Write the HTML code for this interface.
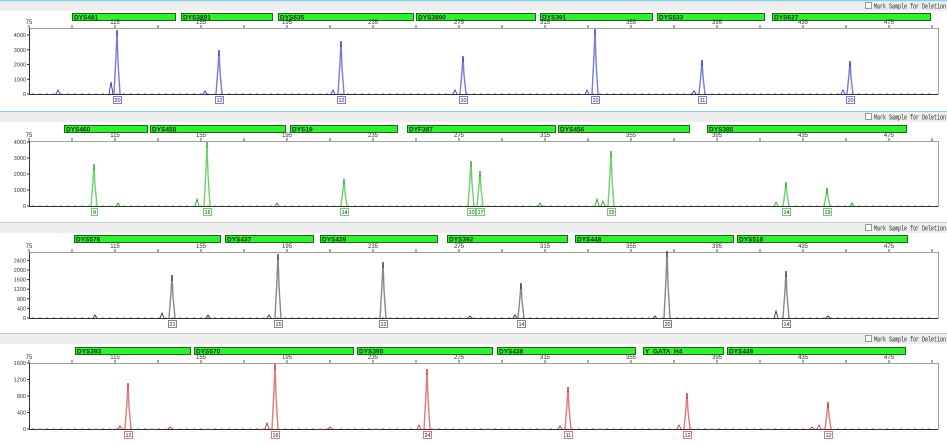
<!DOCTYPE html>
<html><head><meta charset="utf-8"><style>
html,body{margin:0;padding:0;background:#fff;width:947px;height:444px;overflow:hidden}
svg{display:block;font-family:"Liberation Sans",sans-serif}
</style></head><body>
<svg id="s" width="947" height="444" xmlns="http://www.w3.org/2000/svg"></svg>
<script>
var S=document.getElementById('s'),h='';
var P=[
 {st:0,line:'#7fd6e6',bar:13,top:28,base:94,col:'#2020c0',lc:'#7a7ae0',yt:[[0,'0'],[1000,'1000'],[2000,'2000'],[3000,'3000'],[4000,'4000']],k:14.75/1000,
  m:[['DYS481',72,175],['DYS3891',181,272],['DYS635',278,413],['DYS3890',416,535],['DYS391',540,652],['DYS533',657,764],['DYS627',772,930]],
  pk:[[117,30,'20'],[219,50,'12'],[341,41,'12'],[463,56,'10'],[595,29,'10'],[702,60,'11'],[850,61,'20']],
  sm:[[111,82],[58,90],[333,90],[455,90],[587,90],[694,91],[843,90],[205,91]]},
 {st:111,line:'#7fd6e6',bar:125,top:141,base:206,col:'#1a9a1a',lc:'#70d070',yt:[[0,'0'],[1000,'1000'],[2000,'2000'],[3000,'3000'],[4000,'4000']],k:16/1000,
  m:[['DYS460',64,147],['DYS458',150,285],['DYS19',290,397],['DYF387',407,555],['DYS456',558,689],['DYS385',707,906]],
  pk:[[94,164,'9'],[207,142,'16'],[344,179,'14'],[471,161,'10'],[480,171,'17'],[611,151,'15'],[786,182,'14'],[827,188,'19']],
  sm:[[118,203],[197,199],[597,199],[603,201],[540,203],[776,202],[852,203],[277,203]]},
 {st:222,line:'#c8c8c8',bar:235,top:252,base:318,col:'#202020',lc:'#888',yt:[[0,'0'],[400,'400'],[800,'800'],[1200,'1200'],[1600,'1600'],[2000,'2000'],[2400,'2400']],k:24/1000,
  m:[['DYS576',74,220],['DYS437',225,313],['DYS439',320,437],['DYS392',447,567],['DYS448',575,733],['DYS518',737,907]],
  pk:[[172,275,'21'],[278,254,'15'],[383,262,'12'],[521,283,'14'],[667,251,'20'],[786,271,'14']],
  sm:[[162,313],[269,315],[208,315],[95,315],[515,315],[776,311],[655,316],[828,316],[470,316]]},
 {st:333,line:'#c8c8c8',bar:347,top:363,base:429,col:'#c02020',lc:'#e07a7a',yt:[[0,'0'],[400,'400'],[800,'800'],[1200,'1200'],[1600,'1600']],k:16.5/400,
  m:[['DYS393',75,190],['DYS570',194,353],['DYS390',357,492],['DYS438',497,635],['Y_GATA_H4',643,723],['DYS449',727,905]],
  pk:[[128,383,'12'],[275,364,'16'],[427,369,'24'],[568,387,'11'],[687,393,'12'],[828,402,'12']],
  sm:[[120,426],[267,423],[419,425],[560,426],[679,425],[819,425],[812,427],[170,427],[330,427]]}
];
var X0=29,X1=938;
function xs(v){return X0+(v-75)*86/40;}
P.forEach(function(p){
 h+='<rect x="0" y="'+(p.st+1)+'" width="947" height="10" fill="#eeeeee"/>';
 h+='<line x1="0" x2="947" y1="'+(p.st+0.5)+'" y2="'+(p.st+0.5)+'" stroke="'+p.line+'" stroke-width="'+(p.st==0?1.5:1)+'"/>';
 h+='<rect x="865.5" y="'+(p.st+2.5)+'" width="6" height="6" fill="#fff" stroke="#999"/>';
 h+='<text x="874" y="'+(p.st+8.5)+'" font-size="7" fill="#222" font-family="Liberation Mono,monospace" textLength="72" lengthAdjust="spacingAndGlyphs">Mark Sample for Deletion</text>';
 p.m.forEach(function(m){
  h+='<rect x="'+(m[1]+.5)+'" y="'+(p.bar+.5)+'" width="'+(m[2]-m[1])+'" height="7" fill="#33ee33" stroke="#107010"/>';
  h+='<text x="'+(m[1]+2)+'" y="'+(p.bar+6.5)+'" font-size="6.5" font-weight="bold" fill="#103010">'+m[0]+'</text>';
 });
 for(var v=75;v<=495;v+=20){var x=xs(v);
  h+='<line x1="'+x+'" x2="'+x+'" y1="'+(p.top-3)+'" y2="'+p.top+'" stroke="#555"/>';
  if((v-75)%40==0)h+='<text x="'+x+'" y="'+(p.top-4)+'" font-size="6" text-anchor="middle" fill="#333">'+v+'</text>';}
 h+='<rect x="'+(X0+.5)+'" y="'+(p.top+.5)+'" width="'+(X1-X0)+'" height="'+(p.base-p.top)+'" fill="none" stroke="#a0a0a0"/>';
 h+='<line x1="'+X0+'" x2="'+X1+'" y1="'+(p.base+.5)+'" y2="'+(p.base+.5)+'" stroke="#333"/>';
 h+='<line x1="'+(X0+.5)+'" x2="'+(X0+.5)+'" y1="'+p.top+'" y2="'+p.base+'" stroke="#333"/>';
 p.yt.forEach(function(t){var y=p.base-t[0]*p.k;
  h+='<line x1="'+(X0-2)+'" x2="'+X0+'" y1="'+y+'" y2="'+y+'" stroke="#333"/>';
  h+='<text x="'+(X0-3)+'" y="'+(y+2)+'" font-size="5.5" text-anchor="end" fill="#333">'+t[1]+'</text>';});
 p.sm.forEach(function(s){h+='<polyline points="'+(s[0]-2)+','+p.base+' '+s[0]+','+s[1]+' '+(s[0]+2)+','+p.base+'" fill="none" stroke="'+p.col+'" stroke-width="0.8"/>';});
 p.pk.forEach(function(k){var x=k[0];
  h+='<polyline points="'+(x-3)+','+p.base+' '+(x-1)+','+(k[1]+(p.base-k[1])*0.4)+' '+x+','+k[1]+' '+(x+1)+','+(k[1]+(p.base-k[1])*0.5)+' '+(x+3)+','+p.base+'" fill="none" stroke="'+p.lc+'" stroke-width="1.4"/>';
  h+='<line x1="'+x+'" x2="'+x+'" y1="'+k[1]+'" y2="'+(k[1]+6)+'" stroke="'+p.col+'" stroke-width="1"/>';
  var w=k[2].length>1?8:6;
  h+='<rect x="'+(x-w/2+.5)+'" y="'+(p.base+2.5)+'" width="'+w+'" height="7" fill="#fff" stroke="'+p.lc+'"/>';
  h+='<text x="'+(x+.5)+'" y="'+(p.base+8)+'" font-size="5.5" text-anchor="middle" fill="#222">'+k[2]+'</text>';});
 for(var x=X0+3;x<X1-3;x+=7){h+='<line x1="'+x+'" x2="'+(x+2)+'" y1="'+(p.base-0.5)+'" y2="'+(p.base-0.5)+'" stroke="'+p.lc+'" stroke-width="0.6"/>';}
});
S.innerHTML=h;
</script>
</body></html>
